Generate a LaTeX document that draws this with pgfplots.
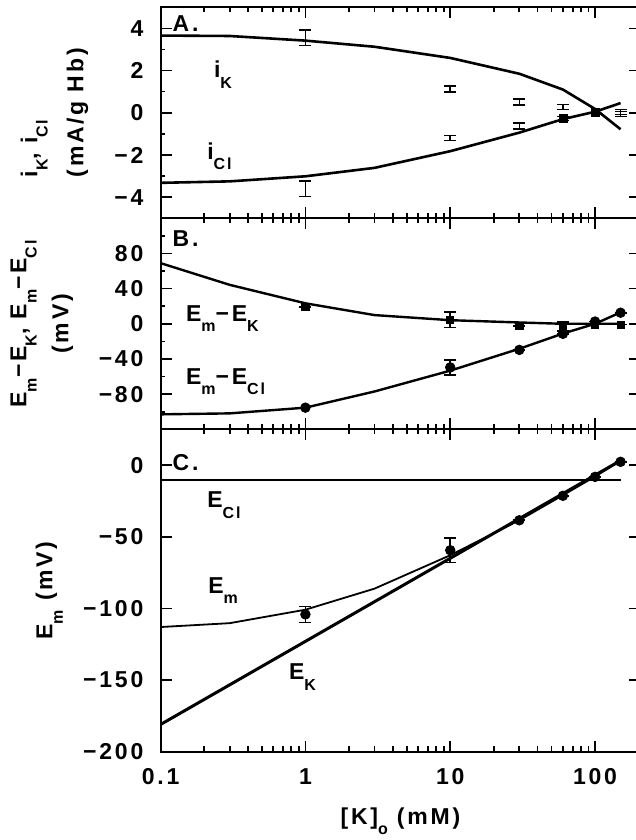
\documentclass[border=0pt]{standalone}
\usepackage{fontspec}
\setmainfont{Liberation Sans}[LetterSpace=12]
\usepackage{pgfplots}
\pgfplotsset{compat=1.18}

% lowered subscript, as in the original lettering
\newcommand{\sbs}[1]{\raisebox{-5.2pt}{\fontsize{8}{9}\selectfont #1}}
% log10 positions of the x ticks, for the tick-only overlay axes
\newcommand{\logminor}{-0.69897,-0.52288,-0.39794,-0.30103,-0.22185,-0.15490,-0.09691,-0.04576,
  0.30103,0.47712,0.60206,0.69897,0.77815,0.84510,0.90309,0.95424,
  1.30103,1.47712,1.60206,1.69897,1.77815,1.84510,1.90309,1.95424,2.30103}
\pgfplotsset{
  xticks only/.style={scale only axis, width=239.8pt, anchor=south west,
    xmin=-1, xmax=2.31175, ymin=0, ymax=1, ytick=\empty,
    xtick={-1,0,1,2}, minor xtick/.expanded={\logminor}, xticklabels={},
    tick align=inside, major tick length=5.5pt, minor tick length=2.6pt,
    tick style={black, line width=0.9pt}, axis line style={line width=1pt}},
}

\begin{document}
\fontsize{11.5}{13}\selectfont\bfseries%
\begin{tikzpicture}
% ---------- A ----------
\begin{axis}[scale only axis, width=239.8pt, height=105.5pt,
  at={(80.3pt,310.85pt)}, anchor=south west,
  xmode=log, xmin=0.1, xmax=205,
  xtick={0.1,1,10,100},
  minor xtick={0.2,0.3,0.4,0.5,0.6,0.7,0.8,0.9,2,3,4,5,6,7,8,9,20,30,40,50,60,70,80,90,200},
  tick align=inside, axis line style={line width=1pt},
  tick style={black, line width=0.8pt},
  major tick length=5.5pt, minor tick length=2.3pt,
  yticklabel style={xshift=-4.6pt},
  ymin=-5, ymax=5, ytick={-4,-2,0,2,4}, yticklabels={−4,−2,0,2,4},
  minor ytick={-3,-1,1,3}, xticklabels={},
  ylabel={\begin{tabular}{@{}l@{}}i\sbs{K}, i\sbs{Cl}\\[10pt](mA/g Hb)\end{tabular}},
  ylabel style={anchor=center, at={(axis description cs:-0.220,0.5)}}]
\addplot[line width=1.3pt] coordinates {(0.1,3.66) (0.3,3.64) (1,3.42) (3,3.13) (10,2.60) (30,1.85) (60,1.10) (100,0.18) (150,-0.78)};
\addplot[line width=1.3pt] coordinates {(0.1,-3.32) (0.3,-3.25) (1,-3.01) (3,-2.61) (10,-1.82) (30,-0.94) (60,-0.30) (100,0.05) (150,0.46)};
\addplot[draw=none, mark=none, error bars/.cd, y dir=both, y explicit,
  error bar style={draw=black, line width=0.8pt},
  error mark options={draw=black, rotate=90, line width=0.8pt, mark size=3pt}]
  coordinates {(1,3.55) +- (0,0.37) (10,1.13) +- (0,0.14) (30,0.52) +- (0,0.14) (60,0.28) +- (0,0.12) (150,-0.06) +- (0,0.12)};
\addplot[draw=none, mark=none, error bars/.cd, y dir=both, y explicit,
  error bar style={draw=black, line width=0.8pt},
  error mark options={draw=black, rotate=90, line width=0.8pt, mark size=3pt}]
  coordinates {(1,-3.6) +- (0,0.36) (10,-1.2) +- (0,0.12) (30,-0.62) +- (0,0.15) (60,-0.27) +- (0,0.1) (150,0.04) +- (0,0.12)};
\addplot[only marks, mark=square*, mark size=2pt] coordinates {(100,0) (60,-0.27)};
\node[anchor=north west, xshift=2pt] at (rel axis cs:0,1) {A.};
\node at (axis cs:0.27,1.8) {i\sbs{K}};
\node at (axis cs:0.255,-2.06) {i\sbs{Cl}};
\end{axis}
\begin{axis}[xticks only, height=105.5pt, at={(80.3pt,310.85pt)}]
\end{axis}
% ---------- B ----------
\begin{axis}[scale only axis, width=239.8pt, height=105.5pt,
  at={(80.3pt,205.35pt)}, anchor=south west,
  xmode=log, xmin=0.1, xmax=205,
  xtick={0.1,1,10,100},
  minor xtick={0.2,0.3,0.4,0.5,0.6,0.7,0.8,0.9,2,3,4,5,6,7,8,9,20,30,40,50,60,70,80,90,200},
  tick align=inside, axis line style={line width=1pt},
  tick style={black, line width=0.8pt},
  major tick length=5.5pt, minor tick length=2.3pt,
  yticklabel style={xshift=-4.6pt},
  ymin=-120, ymax=120, ytick={-80,-40,0,40,80}, yticklabels={−80,−40,0,40,80},
  minor ytick={-100,-60,-20,20,60,100}, xticklabels={},
  ylabel={\begin{tabular}{@{}c@{}}E\sbs{m}−E\sbs{K}, E\sbs{m}−E\sbs{Cl}\\[8pt](mV)\end{tabular}},
  ylabel style={anchor=center, at={(axis description cs:-0.247,0.5)}}]
\addplot[line width=1.2pt] coordinates {(0.1,69) (0.3,44.3) (1,23.3) (3,9.9) (10,4.1) (30,1.5) (60,0) (100,0) (150,0)};
\addplot[line width=1.2pt] coordinates {(0.1,-103) (0.3,-101.9) (1,-95.4) (3,-77) (10,-53.3) (30,-28.4) (60,-11.1) (100,0) (150,13)};
\addplot[only marks, mark=square*, mark size=1.8pt, error bars/.cd, y dir=both, y explicit,
  error bar style={line width=0.8pt},
  error mark options={rotate=90, line width=0.8pt, mark size=3pt}]
  coordinates {(1,19.4) +- (0,0) (10,4.6) +- (0,9) (30,-2.7) +- (0,0) (60,-3) +- (0,5) (100,-1) +- (0,0) (150,-1) +- (0,0)};
\addplot[only marks, mark=*, mark size=2.4pt, error bars/.cd, y dir=both, y explicit,
  error bar style={line width=0.8pt},
  error mark options={rotate=90, line width=0.8pt, mark size=3pt}]
  coordinates {(1,-95.4) +- (0,0) (10,-49.6) +- (0,8.5) (30,-29.7) +- (0,0) (60,-11.4) +- (0,0) (100,2.6) +- (0,0) (150,12.6) +- (0,0)};
\node[anchor=north west, xshift=2pt, yshift=-2.3pt] at (rel axis cs:0,1) {B.};
\node[anchor=west] at (axis cs:0.132,6) {E\sbs{m}−E\sbs{K}};
\node[anchor=west] at (axis cs:0.132,-66) {E\sbs{m}−E\sbs{Cl}};
\end{axis}
\begin{axis}[xticks only, height=105.5pt, at={(80.3pt,205.35pt)}]
\end{axis}
% ---------- C ----------
\begin{axis}[scale only axis, width=239.8pt, height=161.2pt,
  at={(80.3pt,44.15pt)}, anchor=south west,
  xmode=log, xmin=0.1, xmax=205,
  xtick={0.1,1,10,100},
  minor xtick={0.2,0.3,0.4,0.5,0.6,0.7,0.8,0.9,2,3,4,5,6,7,8,9,20,30,40,50,60,70,80,90,200},
  tick align=inside, axis line style={line width=1pt},
  tick style={black, line width=0.8pt},
  major tick length=5.5pt, minor tick length=2.3pt,
  yticklabel style={xshift=-4.6pt},
  xticklabel style={yshift=-4.3pt},
  ymin=-200, ymax=25, ytick={-200,-150,-100,-50,0},
  yticklabels={−200,−150,−100,−50,0},
  xticklabels={0.1,1,10,100},
  ylabel={E\sbs{m} (mV)},
  ylabel style={anchor=center, at={(axis description cs:-0.232,0.5)}},
  xlabel={[K]\sbs{o} (mM)},
  xlabel style={at={(axis description cs:0.5,0)}, anchor=north, yshift=-23.8pt}]
\addplot[line width=1pt] coordinates {(0.1,-10.5) (150,-10.5)};
\addplot[line width=1.5pt] coordinates {(0.1,-181) (150,3.2)};
\addplot[line width=0.9pt] coordinates {(0.1,-113) (0.3,-110.3) (1,-100.9) (3,-86.2) (10,-62.9) (30,-38.5) (60,-21) (100,-8) (150,3)};
\addplot[only marks, mark=*, mark size=2.4pt, error bars/.cd, y dir=both, y explicit,
  error bar style={line width=0.8pt},
  error mark options={rotate=90, line width=0.8pt, mark size=3pt}]
  coordinates {(1,-104.2) +- (0,5.5) (10,-59.4) +- (0,8.5) (30,-38.5) +- (0,0) (60,-21.4) +- (0,0) (100,-8.2) +- (0,0) (150,2.3) +- (0,0)};
\node[anchor=north west, xshift=2pt, yshift=-8.3pt] at (rel axis cs:0,1) {C.};
\node at (axis cs:0.274,-28) {E\sbs{Cl}};
\node at (axis cs:0.27,-87.4) {E\sbs{m}};
\node at (axis cs:0.955,-148) {E\sbs{K}};
\end{axis}
\begin{axis}[xticks only, height=161.2pt, at={(80.3pt,44.15pt)}]
\end{axis}
\pgfresetboundingbox
\path (0,0) rectangle (318pt,420pt);
\end{tikzpicture}
\end{document}
